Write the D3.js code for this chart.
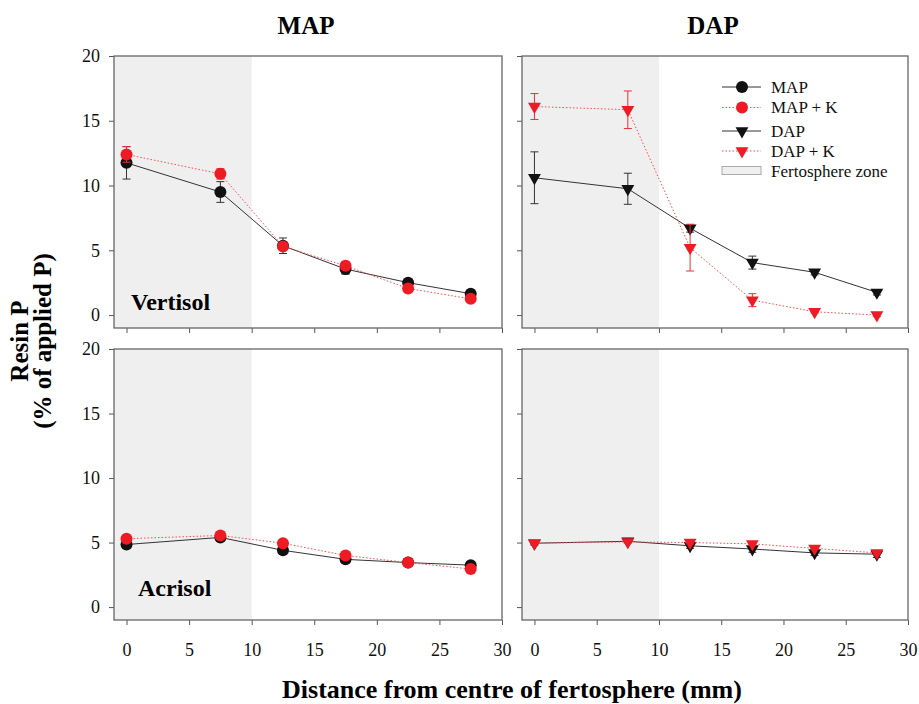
<!DOCTYPE html>
<html>
<head>
<meta charset="utf-8">
<script src="https://cdn.jsdelivr.net/npm/d3@7"></script>
<style>
  body { margin:0; background:#fff; }
</style>
</head>
<body>
<div id="chart"></div>
<script>
// distances (mm) from centre of fertosphere
var distances = [0, 7.5, 12.5, 17.5, 22.5, 27.5];

// Vertisol
var vertMAP     = [11.75, 9.5, 5.35, 3.55, 2.5, 1.65];
var vertMAPsd   = [1.25, 0.8, 0.6, 0.4, 0.15, 0.15];
var vertMAPK    = [12.4, 10.9, 5.3, 3.8, 2.05, 1.25];
var vertMAPKsd  = [0.6, 0.4, 0.3, 0.3, 0.15, 0.15];
var vertDAP     = [10.6, 9.75, 6.7, 4.05, 3.3, 1.75];
var vertDAPsd   = [2.0, 1.2, 0.3, 0.5, 0.2, 0.2];
var vertDAPK    = [16.1, 15.85, 5.2, 1.15, 0.25, 0.0];
var vertDAPKsd  = [1.0, 1.45, 1.8, 0.5, 0.1, 0.1];

// Acrisol
var acriMAP     = [4.85, 5.4, 4.4, 3.7, 3.45, 3.25];
var acriMAPsd   = [0.3, 0.15, 0.15, 0.15, 0.1, 0.15];
var acriMAPK    = [5.3, 5.55, 4.95, 4.0, 3.45, 2.95];
var acriMAPKsd  = [0.15, 0.15, 0.15, 0.15, 0.1, 0.1];
var acriDAP     = [4.95, 5.1, 4.75, 4.5, 4.2, 4.1];
var acriDAPsd   = [0.15, 0.1, 0.2, 0.25, 0.2, 0.25];
var acriDAPK    = [4.95, 5.05, 5.0, 4.9, 4.55, 4.2];
var acriDAPKsd  = [0.1, 0.1, 0.1, 0.1, 0.1, 0.1];

var yTicks = [0, 5, 10, 15, 20];
var xTicks = [0, 5, 10, 15, 20, 25, 30];
var fertoZone = [-1, 10];

var colTitles = ["MAP", "DAP"];
var soilNames = ["Vertisol", "Acrisol"];
var legendItems = ["MAP", "MAP + K", "DAP", "DAP + K", "Fertosphere zone"];

var red = "#ee1b24";
var blk = "#111111";

var W = 919, H = 704;
var svg = d3.select("#chart").append("svg").attr("width", W).attr("height", H);

var colX = [[114, 502], [522, 908]];
var rowY = [[56, 328], [349, 620]];

var panels = [
  { row:0, col:0, shape:"circle", s:[[vertMAP, vertMAPsd, false], [vertMAPK, vertMAPKsd, true]] },
  { row:0, col:1, shape:"tri",    s:[[vertDAP, vertDAPsd, false], [vertDAPK, vertDAPKsd, true]] },
  { row:1, col:0, shape:"circle", s:[[acriMAP, acriMAPsd, false], [acriMAPK, acriMAPKsd, true]] },
  { row:1, col:1, shape:"tri",    s:[[acriDAP, acriDAPsd, false], [acriDAPK, acriDAPKsd, true]] }
];

var triangle = d3.symbol().type(d3.symbolTriangle).size(72);

function drawMarker(g, shape, x, y, color) {
  if (shape == "circle") {
    g.append("circle").attr("cx", x).attr("cy", y).attr("r", 6).attr("fill", color);
  } else {
    g.append("path").attr("d", triangle())
      .attr("transform", "translate(" + x + "," + y + ") rotate(180)")
      .attr("fill", color);
  }
}

panels.forEach(function(p) {
  var x = d3.scaleLinear().domain([-1, 30]).range(colX[p.col]);
  var y = d3.scaleLinear().domain([-1, 20]).range([rowY[p.row][1], rowY[p.row][0]]);
  var g = svg.append("g");

  // fertosphere zone
  g.append("rect")
    .attr("x", x(fertoZone[0])).attr("y", y(20))
    .attr("width", x(fertoZone[1]) - x(fertoZone[0]))
    .attr("height", y(-1) - y(20))
    .attr("fill", "#efefef");

  // axes
  var yAx = g.append("g").attr("transform", "translate(" + x(-1) + ",0)")
    .call(d3.axisLeft(y).tickValues(yTicks).tickSize(5).tickSizeOuter(0)
      .tickFormat(p.col == 0 ? d3.format("d") : ""));
  var xAx = g.append("g").attr("transform", "translate(0," + y(-1) + ")")
    .call(d3.axisBottom(x).tickValues(xTicks).tickSize(5).tickSizeOuter(0)
      .tickFormat(p.row == 1 ? d3.format("d") : ""));
  [yAx, xAx].forEach(function(a) {
    a.attr("font-size", 18);
    a.select(".domain").remove();
    a.selectAll("line").attr("stroke", "#555");
    a.selectAll("text").attr("fill", "#111");
  });
  yAx.selectAll("text").attr("x", -14);
  xAx.selectAll("text").attr("y", 23);

  // frame
  g.append("rect")
    .attr("x", x(-1)).attr("y", y(20))
    .attr("width", x(30) - x(-1)).attr("height", y(-1) - y(20))
    .attr("fill", "none").attr("stroke", "#666").attr("stroke-width", 1.3);

  // series
  p.s.forEach(function(s) {
    var vals = s[0], sd = s[1], isK = s[2];
    var color = isK ? red : blk;
    var line = d3.line().x(function(d, i) { return x(distances[i]); }).y(function(d) { return y(d); });
    g.append("path").datum(vals).attr("d", line).attr("fill", "none")
      .attr("stroke", isK ? "#ff4a4a" : "#333")
      .attr("stroke-width", 1)
      .attr("stroke-dasharray", isK ? "1.5,2" : null);

    vals.forEach(function(v, i) {
      var cx = x(distances[i]);
      var eb = isK ? "#e8303a" : "#333";
      g.append("line").attr("x1", cx).attr("x2", cx).attr("y1", y(v - sd[i])).attr("y2", y(v + sd[i]))
        .attr("stroke", eb).attr("stroke-width", 1);
      [v - sd[i], v + sd[i]].forEach(function(e) {
        g.append("line").attr("x1", cx - 4).attr("x2", cx + 4).attr("y1", y(e)).attr("y2", y(e))
          .attr("stroke", eb).attr("stroke-width", 1);
      });
    });
    vals.forEach(function(v, i) {
      drawMarker(g, p.shape, x(distances[i]), y(v), color);
    });
  });

  if (p.col == 0) {
    g.append("text").attr("x", p.row == 0 ? 131 : 138).attr("y", p.row == 0 ? 310 : 596)
      .attr("font-size", 24).attr("font-weight", "bold").text(soilNames[p.row]);
  }
});

// column titles
colTitles.forEach(function(t, i) {
  svg.append("text").attr("x", (colX[i][0] + colX[i][1]) / 2 - 2).attr("y", 34)
    .attr("text-anchor", "middle").attr("font-size", 25).attr("font-weight", "bold").text(t);
});

// axis titles
svg.append("text").attr("transform", "translate(28,341) rotate(-90)")
  .attr("text-anchor", "middle").attr("font-size", 25).attr("font-weight", "bold")
  .selectAll("tspan").data(["Resin P", "(% of applied P)"]).enter().append("tspan")
  .attr("x", 0).attr("dy", function(d, i) { return i == 0 ? 0 : 23; }).text(function(d) { return d; });

svg.append("text").attr("x", 512).attr("y", 698).attr("text-anchor", "middle")
  .attr("font-size", 26).attr("font-weight", "bold").text("Distance from centre of fertosphere (mm)");

// legend
var legY = [87, 107.5, 131, 151, 171];
var lg = svg.append("g");
legendItems.forEach(function(name, i) {
  var yy = legY[i];
  if (i < 4) {
    var isK = (i % 2 == 1);
    lg.append("line").attr("x1", 722).attr("x2", 761).attr("y1", yy).attr("y2", yy)
      .attr("stroke", isK ? "#ff4a4a" : "#333").attr("stroke-width", 1)
      .attr("stroke-dasharray", isK ? "1.5,2" : null);
    drawMarker(lg, i < 2 ? "circle" : "tri", 742, yy, isK ? red : blk);
  } else {
    lg.append("rect").attr("x", 722).attr("y", yy - 4.5).attr("width", 39).attr("height", 8)
      .attr("fill", "#efefef").attr("stroke", "#aaa").attr("stroke-width", 1);
  }
  lg.append("text").attr("x", 771).attr("y", yy + 5.5).attr("font-size", 17).attr("fill", "#111").text(name);
});

// serif everywhere (inline style beats the axis font-family attribute)
svg.selectAll("text").style("font-family", "'Liberation Serif', serif");
</script>
</body>
</html>
